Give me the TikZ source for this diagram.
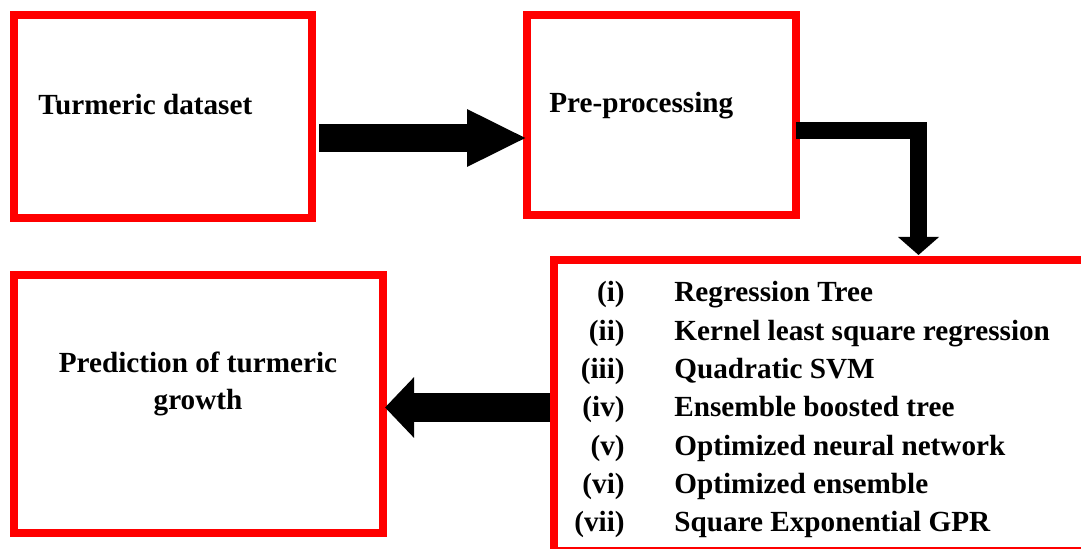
\documentclass[tikz,border=0pt]{standalone}
\usepackage{fontspec}
\setmainfont{Liberation Serif}
\usetikzlibrary{arrows.meta}

\definecolor{boxred}{rgb}{1,0,0}

\begin{document}
\begin{tikzpicture}[x=0.5pt, y=-0.5pt,
        box/.style={draw=boxred, line width=4pt, inner sep=0pt, outer sep=0pt},
        txt/.style={font=\fontsize{14.6}{18.5}\selectfont\bfseries, inner sep=0pt}]
            \useasboundingbox (0,0) rectangle (1081,549);

            % boxes
            \node[box, minimum width=148.75pt, minimum height=101.75pt] (data) at (162.75,116.75) {};
            \node[box, minimum width=134.5pt, minimum height=100pt] (prep) at (661.5,115) {};
            \node[box, minimum width=184.5pt, minimum height=129pt] (pred) at (198.5,404) {};
            \begin{scope}
                \clip (0,0) rectangle (1081,549);
                \node[box, minimum width=270.75pt, minimum height=145.5pt] (models) at (824.25,405.5) {};
            \end{scope}

            % texts
            \node[txt, anchor=base west] (datatxt) at (38,115) {Turmeric dataset};
            \node[txt, anchor=base west] (preptxt) at (549,113) {Pre-processing};
            \node[txt, anchor=base, align=center] (predtxt) at (198,410) {Prediction of turmeric\\growth};
            \foreach \num/\name [count=\k from 0] in {{(i)}/{Regression Tree}, {(ii)}/{Kernel least square regression}, {(iii)}/{Quadratic SVM}, {(iv)}/{Ensemble boosted tree}, {(v)}/{Optimized neural network}, {(vi)}/{Optimized ensemble}, {(vii)}/{Square Exponential GPR}}
            {
                \node[txt, anchor=base east] (num\k) at (625,302+38.3*\k) {\num};
                \node[txt, anchor=base west] (name\k) at (674,302+38.3*\k) {\name};
            }

            % arrows
            \coordinate (rowA) at (0,138);
            \coordinate (rowB) at (0,131);
            \coordinate (colB) at (918.5,0);
            \coordinate (rowC) at (0,407.5);
            \draw[line width=14pt, -{Triangle[length=30pt, width=26.5pt]}, shorten <=3.75pt] (data.east |- rowA) -- (prep.west |- rowA);
            \draw[line width=8.5pt, -{Triangle[length=9pt, width=20pt]}, shorten >=2.5pt] (prep.east |- rowB) -- (colB |- rowB) -- (colB |- models.north);
            \draw[line width=14.5pt, -{Triangle[length=14.5pt, width=29.5pt]}, shorten <=1.75pt, shorten >=1pt] (models.west |- rowC) -- (pred.east |- rowC);
\end{tikzpicture}
\end{document}
